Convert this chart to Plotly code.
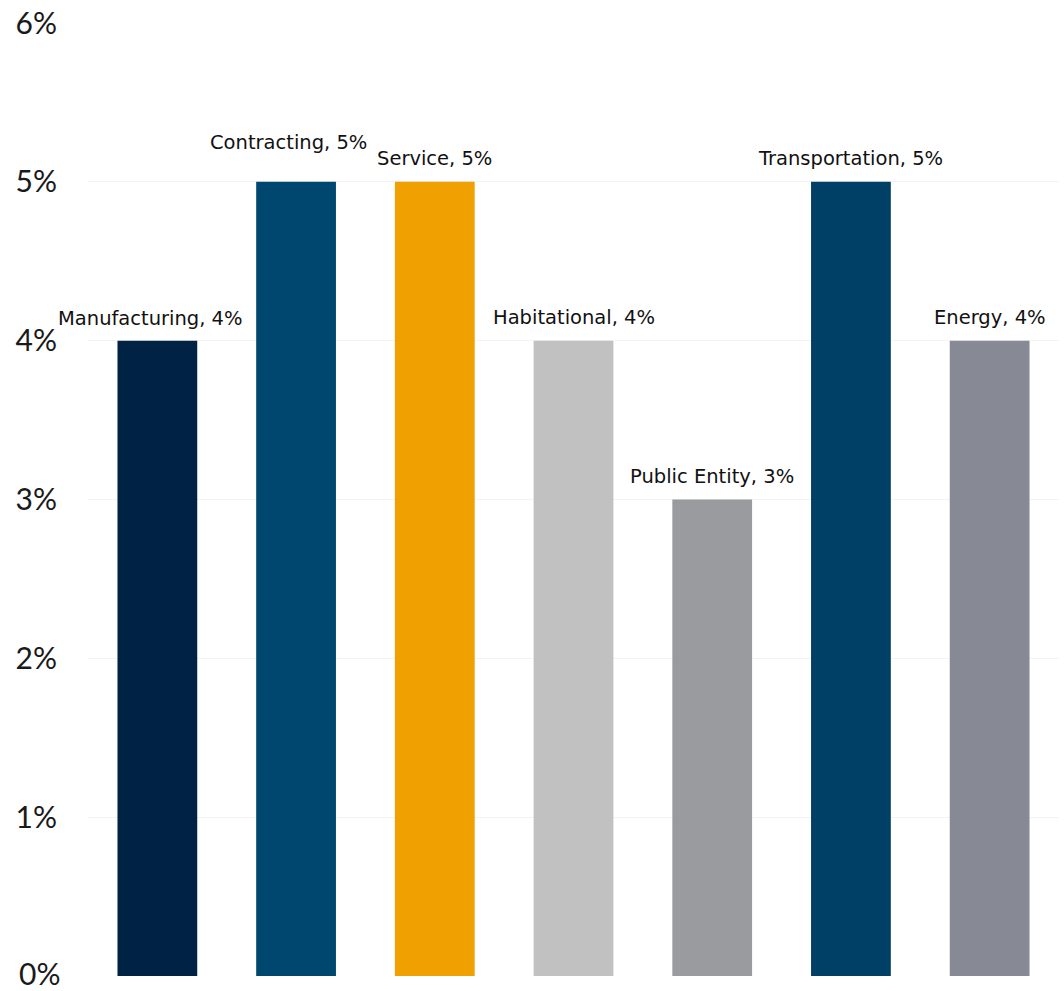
import plotly.graph_objects as go

# Sector values (percent)
categories = ["Manufacturing", "Contracting", "Service", "Habitational",
              "Public Entity", "Transportation", "Energy"]
values = [4, 5, 5, 4, 3, 5, 4]
bar_colors = ["#002345", "#00476F", "#F0A000", "#C1C1C1",
              "#9A9B9F", "#003F66", "#878A94"]
tick_vals = [0, 1, 2, 3, 4, 5, 6]
tick_text = ["0%", "1%", "2%", "3%", "4%", "5%", "6%"]

# per-label nudges so neighbouring labels don't collide
label_dx = [-7, -8, 0, 0, 0, 0, 0]
label_dy = [9, 26, 10, 10, 10, 10, 10]

TICK_FONT = "Lato"
LABEL_FONT = "DejaVu Sans"
TICK_SIZE = 30
TICK_STANDOFF = 30

fig = go.Figure(go.Bar(
    x=categories, y=values,
    marker=dict(color=bar_colors, line=dict(width=0)),
    hoverinfo="skip",
))

for cat, val, dx, dy in zip(categories, values, label_dx, label_dy):
    fig.add_annotation(
        x=cat, y=val, text=f"{cat}, {val}%",
        showarrow=False, xanchor="center", yanchor="bottom",
        xshift=dx, yshift=dy,
        font=dict(family=LABEL_FONT, size=19.5, color="#111111"),
    )

# The baseline label sits right at the bottom edge of the page, where
# plotly would drop the tick label, so it is drawn as an annotation.
fig.add_annotation(
    xref="paper", x=0, y=tick_vals[0], text=tick_text[0],
    showarrow=False, xanchor="right", yanchor="bottom",
    xshift=-TICK_STANDOFF + 3, yshift=-16, borderpad=0,
    font=dict(family=TICK_FONT, size=TICK_SIZE, color="#1a1a1a"),
)

fig.update_layout(
    width=1064, height=991,
    margin=dict(l=88, r=5, t=23, b=15),
    paper_bgcolor="white", plot_bgcolor="white",
    bargap=0.425, showlegend=False,
    xaxis=dict(showticklabels=False, showgrid=False, zeroline=False,
               showline=False, ticks="", range=[-0.5, 6.5],
               automargin=False),
    yaxis=dict(range=[0, 6], tickvals=tick_vals, ticktext=tick_text,
               showgrid=True, gridcolor="#F3F3F3", gridwidth=1,
               zeroline=False, showline=False, ticks="",
               ticklabelstandoff=TICK_STANDOFF, automargin=False,
               tickfont=dict(family=TICK_FONT, size=TICK_SIZE,
                             color="#1a1a1a")),
)

fig.write_html("out.html")
